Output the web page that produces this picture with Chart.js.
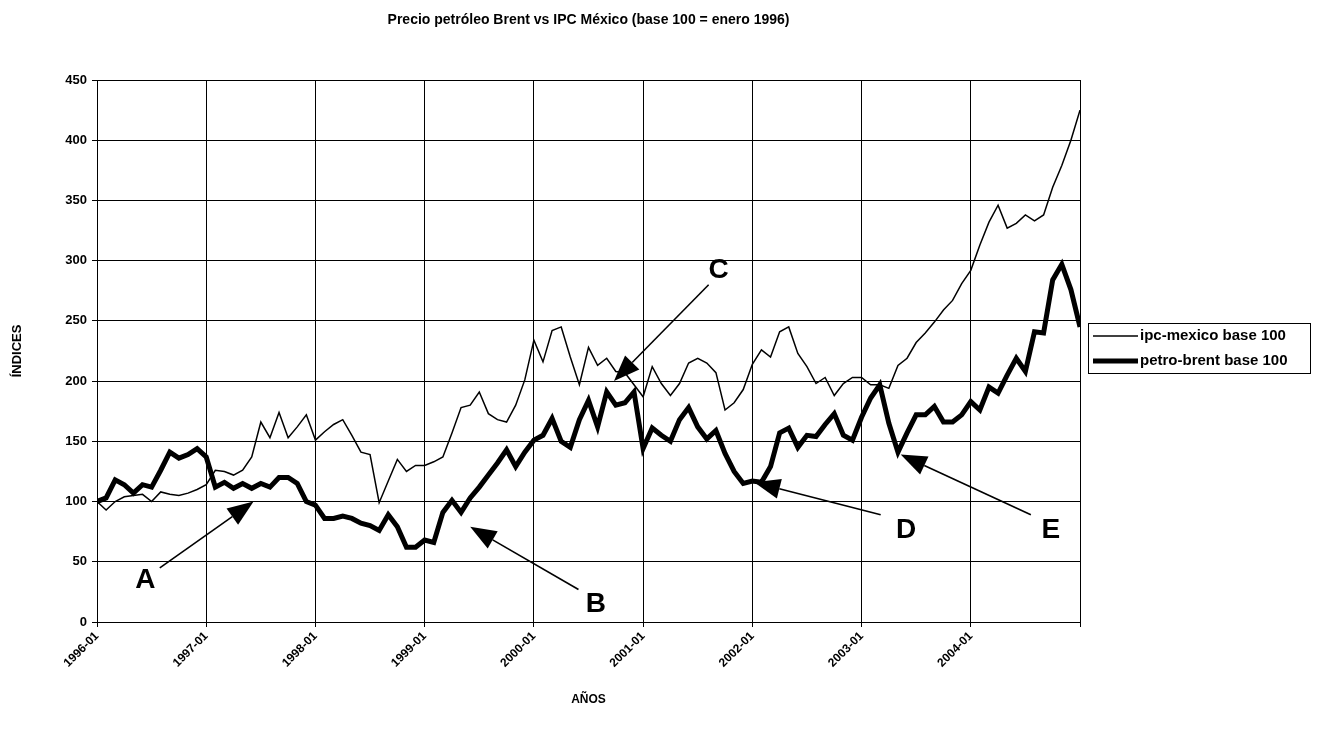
<!DOCTYPE html>
<html>
<head>
<meta charset="utf-8">
<script src="https://cdn.jsdelivr.net/npm/chart.js@4.4.1/dist/chart.umd.min.js"></script>
<style>
  html, body { margin: 0; padding: 0; background: #fff; }
</style>
</head>
<body>
<canvas id="grafico" width="1319" height="730"></canvas>
<script>
// monthly series, base 100 = enero 1996 (1996-01 .. 2005-01)
const ipcMexico = [
  100, 93, 100, 104, 105, 106, 100, 108, 106, 105, 107, 110,
  114, 126, 125, 122, 126, 137, 166, 153, 174, 153, 162, 172,
  151, 158, 164, 168, 155, 141, 139, 99, 117, 135, 125, 130,
  130, 133, 137, 157, 178, 180, 191, 173, 168, 166, 180, 201,
  234, 216, 242, 245, 220, 197, 228, 213, 219, 208, 207, 197,
  187, 212, 198, 188, 198, 215, 219, 215, 207, 176, 182, 193,
  214, 226, 220, 241, 245, 223, 212, 198, 203, 188, 198, 203,
  203, 197, 197, 194, 213, 219, 232, 240, 249, 259, 267, 281,
  292, 313, 332, 346, 327, 331, 338, 333, 338, 361, 379, 400,
  425
];
const petroBrent = [
  100, 103, 118, 114, 107, 114, 112, 126, 141, 136, 139, 144,
  137, 112, 116, 111, 115, 111, 115, 112, 120, 120, 115, 100,
  97, 86, 86, 88, 86, 82, 80, 76, 89, 79, 62, 62,
  68, 66, 91, 101, 91, 103, 112, 122, 132, 143, 129, 141,
  151, 155, 169, 150, 145, 168, 184, 162, 191, 180, 182, 191,
  144, 161, 155, 150, 168, 178, 162, 152, 159, 140, 125, 115,
  117, 116, 129, 157, 161, 145, 155, 154, 164, 173, 155, 151,
  170, 186, 197, 165, 141, 157, 172, 172, 179, 166, 166, 172,
  183, 176, 195, 190, 205, 219, 208, 241, 240, 284, 297, 276,
  245
];

const months = [];
for (let y = 1996; y <= 2005; y++) {
  for (let m = 1; m <= 12; m++) {
    if (months.length < ipcMexico.length) months.push(y + "-" + String(m).padStart(2, "0"));
  }
}

// annotations: letter, letter position, arrow tail, arrow tip (month index, index value)
const notes = ["A", "B", "C", "D", "E"];
const noteAt = [[5.3, 35], [54.8, 15], [68.3, 292], [88.9, 76], [104.8, 76]];
const arrowFrom = [[6.9, 45], [52.9, 27], [67.2, 280], [86.1, 89], [102.6, 89]];
const arrowTo = [[17.2, 100], [41.0, 79], [56.8, 200], [72.2, 116], [88.3, 139]];

const FONT = "'Liberation Sans', Arial, Helvetica, sans-serif";

const extras = {
  id: "extras",
  afterDraw(chart) {
    const { ctx, chartArea } = chart;
    const sx = chart.scales.x, sy = chart.scales.y;
    ctx.save();
    ctx.fillStyle = "#000";
    ctx.strokeStyle = "#000";

    notes.forEach((t, k) => {
      const x0 = sx.getPixelForValue(arrowFrom[k][0]), y0 = sy.getPixelForValue(arrowFrom[k][1]);
      const x1 = sx.getPixelForValue(arrowTo[k][0]), y1 = sy.getPixelForValue(arrowTo[k][1]);
      const a = Math.atan2(y1 - y0, x1 - x0);
      const len = 26, half = 10;
      const bx = x1 - len * Math.cos(a), by = y1 - len * Math.sin(a);
      ctx.lineWidth = 1.6;
      ctx.beginPath();
      ctx.moveTo(x0, y0);
      ctx.lineTo(bx, by);
      ctx.stroke();
      ctx.beginPath();
      ctx.moveTo(x1, y1);
      ctx.lineTo(bx + half * Math.sin(a), by - half * Math.cos(a));
      ctx.lineTo(bx - half * Math.sin(a), by + half * Math.cos(a));
      ctx.closePath();
      ctx.fill();
      ctx.font = "bold 28px " + FONT;
      ctx.textAlign = "center";
      ctx.textBaseline = "middle";
      ctx.fillText(t, sx.getPixelForValue(noteAt[k][0]), sy.getPixelForValue(noteAt[k][1]));
    });

    // legend box on the right
    const lx = chartArea.right + 8, lw = 222, lh = 50;
    const ly = Math.round((chartArea.top + chartArea.bottom) / 2 - lh / 2) - 3;
    ctx.lineWidth = 1;
    ctx.strokeRect(lx + 0.5, ly + 0.5, lw, lh);
    ctx.font = "bold 15px " + FONT;
    ctx.textAlign = "left";
    ctx.textBaseline = "middle";
    chart.data.datasets.forEach((ds, k) => {
      const yy = ly + 13 + k * 25;
      ctx.lineWidth = ds.borderWidth;
      ctx.beginPath();
      ctx.moveTo(lx + 5, yy);
      ctx.lineTo(lx + 50, yy);
      ctx.stroke();
      ctx.fillText(ds.label, lx + 52, yy);
    });
    ctx.restore();
  }
};

new Chart(document.getElementById("grafico"), {
  type: "line",
  data: {
    datasets: [
      {
        label: "ipc-mexico base 100",
        data: ipcMexico.map((v, i) => ({ x: i, y: v })),
        borderColor: "#000",
        borderWidth: 1.5,
        pointRadius: 0,
        tension: 0,
      },
      {
        label: "petro-brent base 100",
        data: petroBrent.map((v, i) => ({ x: i, y: v })),
        borderColor: "#000",
        borderWidth: 5,
        pointRadius: 0,
        tension: 0,
        borderJoinStyle: "miter",
      },
    ],
  },
  options: {
    responsive: false,
    animation: false,
    layout: { padding: { left: 0, right: 239, top: 0, bottom: 0 } },
    plugins: {
      legend: { display: false },
      tooltip: { enabled: false },
      title: {
        display: true,
        fullSize: false,
        text: "Precio petróleo Brent vs IPC México (base 100 = enero 1996)",
        color: "#000",
        font: { family: FONT, size: 14, weight: "bold" },
        padding: { top: 12, bottom: 51.2 },
      },
    },
    scales: {
      x: {
        type: "linear",
        min: 0,
        max: months.length - 1,
        afterFit: (s) => { s.height = 108; },
        grid: { color: "#000", lineWidth: 1, tickLength: 5, tickColor: "#000" },
        border: { color: "#000", width: 1 },
        ticks: {
          stepSize: 12,
          autoSkip: false,
          maxRotation: 45,
          minRotation: 45,
          padding: 2,
          color: "#000",
          font: { family: FONT, size: 12, weight: "bold" },
          callback: (v) => (v < months.length - 1 ? months[v] : ""),
        },
        title: {
          display: true,
          text: "AÑOS",
          color: "#000",
          font: { family: FONT, size: 12, weight: "bold" },
          padding: { top: 4, bottom: 23 },
        },
      },
      y: {
        min: 0,
        max: 450,
        afterFit: (s) => { s.width = 97; },
        grid: { color: "#000", lineWidth: 1, tickLength: 5, tickColor: "#000" },
        border: { color: "#000", width: 1 },
        ticks: {
          stepSize: 50,
          padding: 5,
          color: "#000",
          font: { family: FONT, size: 13, weight: "bold" },
        },
        title: {
          display: true,
          text: "ÍNDICES",
          color: "#000",
          font: { family: FONT, size: 13, weight: "bold" },
          padding: { top: 10, bottom: 4 },
        },
      },
    },
  },
  plugins: [extras],
});
</script>
</body>
</html>
